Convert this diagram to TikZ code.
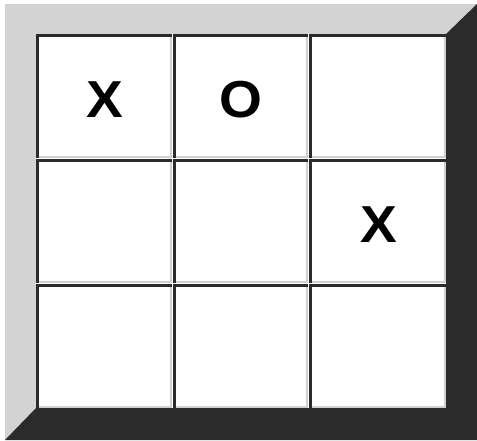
\documentclass[tikz,border=0pt]{standalone}
\usepackage{fontspec}
\setmainfont{Liberation Sans}
\definecolor{framelight}{HTML}{D3D3D3}
\definecolor{framedark}{HTML}{2B2B2B}
\definecolor{celllight}{HTML}{D0D0D0}
\begin{document}
\begin{tikzpicture}[x=1pt,y=-1pt,
  glyph/.style={font=\fontsize{52}{52}\selectfont\bfseries, inner sep=0pt, xscale=1.06, anchor=center},
  darkedge/.style={draw=framedark, line width=2.5pt, line cap=rect},
  lightedge/.style={draw=celllight, line width=2pt, line cap=rect}]
\useasboundingbox (0,0) rectangle (477,440);
\fill[white] (0,0) rectangle (477,440);
% outer bevel
\fill[framelight] (5,4) -- (477,4) -- (446,34) -- (36,34) -- (36,408) -- (5,440) -- cycle;
\fill[framedark] (477,4) -- (477,440) -- (5,440) -- (36,408) -- (446,408) -- (446,34) -- cycle;
% cells
\foreach \xa/\xb [count=\i] in {36/172,173/308,309/446}{
  \foreach \ya/\yb [count=\j] in {34/158,159/283,284/408}{
    \fill[white] (\xa,\ya) rectangle (\xb,\yb);
    \draw[lightedge] (\xa+1,\yb-1) -- (\xb-1,\yb-1) -- (\xb-1,\ya+1);
    \draw[darkedge] (\xa+1.25,\yb-1) -- (\xa+1.25,\ya+1.25) -- (\xb-1,\ya+1.25);
    \coordinate (c\i\j) at ({(\xa+\xb)/2},{(\ya+\yb)/2+4});
  }
}
\node[glyph] (m11) at ([xshift=1pt]c11) {X};
\node[glyph] (m21) at (c21) {O};
\node[glyph] (m32) at ([xshift=1pt]c32) {X};
\end{tikzpicture}
\end{document}
